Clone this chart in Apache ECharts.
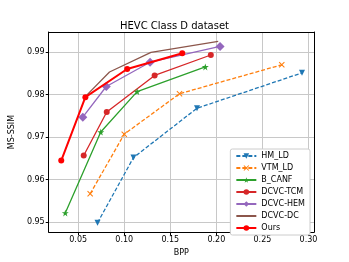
<!DOCTYPE html>
<html><head><meta charset="utf-8">
<script src="https://cdn.jsdelivr.net/npm/echarts@6/dist/echarts.min.js"></script>
<style>html,body{margin:0;padding:0;background:#fff}#c{width:349px;height:262px}</style>
</head><body><div id="c"></div>
<script>
var title = 'HEVC Class D dataset';
var seriesNames = ['HM_LD','VTM_LD','B_CANF','DCVC-TCM','DCVC-HEM','DCVC-DC','Ours'];
var bppHM = [0.071,0.110,0.179,0.293];   var ssimHM = [0.9499,0.9652,0.9768,0.9851];
var bppVTM = [0.063,0.100,0.160,0.271];  var ssimVTM = [0.9567,0.9707,0.9802,0.9870];
var bppCANF = [0.036,0.0745,0.114,0.188]; var ssimCANF = [0.9522,0.9712,0.9807,0.9865];
var bppTCM = [0.056,0.081,0.133,0.194];  var ssimTCM = [0.9657,0.9759,0.9845,0.9893];
var bppHEM = [0.055,0.0805,0.128,0.204]; var ssimHEM = [0.9747,0.9819,0.9876,0.9913];
var bppDC = [0.0585,0.084,0.129,0.202];  var ssimDC = [0.9797,0.9853,0.9899,0.9925];
var bppOurs = [0.0316,0.0578,0.1032,0.163]; var ssimOurs = [0.9645,0.9794,0.9860,0.9897];
var xTicks = [0.05,0.10,0.15,0.20,0.25,0.30];
var yTicks = [0.95,0.96,0.97,0.98,0.99];

function pts(x,y){return x.map(function(v,i){return [v,y[i]];});}
var STAR='path://M50,0 L61,35 L98,35 L68,57 L79,91 L50,70 L21,91 L32,57 L2,35 L39,35 Z';
var XM='path://M0,12 L12,0 L50,38 L88,0 L100,12 L62,50 L100,88 L88,100 L50,62 L12,100 L0,88 L38,50 Z';
var F='DejaVu Sans';
function mk(name,data,color,opts){
  var s={name:name,type:'line',data:data,color:color,animation:false,
    lineStyle:{color:color,width:opts.w||1.3,type:opts.dash?[4,2]:'solid'},
    itemStyle:{color:color},symbol:opts.sym||'none',symbolSize:opts.size||6,
    symbolRotate:opts.rot||0,showSymbol:!!opts.sym,z:opts.z||2};
  return s;
}
var legendData = seriesNames.map(function(n){ return n==='DCVC-DC' ? {name:n,itemStyle:{color:'rgba(0,0,0,0)',borderWidth:0}} : n; });
var chart=echarts.init(document.getElementById('c'),null,{renderer:'canvas'});
chart.setOption({
  animation:false,
  title:{text:title,left:'center',top:16,textStyle:{fontFamily:F,fontSize:10,fontWeight:'normal',color:'#000'}},
  grid:{left:43,right:35,top:32,bottom:29},
  xAxis:[{type:'value',min:0.018,max:0.306,name:'BPP',nameLocation:'middle',nameGap:15,
    nameTextStyle:{fontFamily:F,fontSize:8,color:'#000'},
    axisLine:{onZero:false,lineStyle:{color:'#000',width:1}},
    axisTick:{show:true,length:3,lineStyle:{color:'#000'},customValues:xTicks},
    axisLabel:{fontFamily:F,fontSize:8,color:'#000',margin:4,customValues:xTicks,formatter:function(v){return v.toFixed(2);}},
    splitLine:{show:true,lineStyle:{color:'#c8c8c8',width:1}}},
    {type:'value',position:'top',min:0.018,max:0.306,axisLine:{show:true,onZero:false,lineStyle:{color:'#000',width:1}},
     axisTick:{show:false},axisLabel:{show:false},splitLine:{show:false}}],
  yAxis:[{type:'value',min:0.9477,max:0.9947,name:'MS-SSIM',nameLocation:'middle',nameGap:30,nameRotate:90,
    nameTextStyle:{fontFamily:F,fontSize:8,color:'#000'},
    axisLine:{show:true,onZero:false,lineStyle:{color:'#000',width:1}},
    axisTick:{show:true,length:3,lineStyle:{color:'#000'},customValues:yTicks},
    axisLabel:{fontFamily:F,fontSize:8,color:'#000',margin:4,customValues:yTicks,formatter:function(v){return v.toFixed(2);}},
    splitLine:{show:true,lineStyle:{color:'#c8c8c8',width:1}}},
    {type:'value',position:'right',min:0.9477,max:0.9947,axisLine:{show:true,onZero:false,lineStyle:{color:'#000',width:1}},
     axisTick:{show:false},axisLabel:{show:false},splitLine:{show:false}}],
  legend:{orient:'vertical',right:39,top:149,itemWidth:20,itemHeight:7,itemGap:4,
    padding:[3,5,3,5],borderColor:'#cccccc',borderWidth:1,borderRadius:2,backgroundColor:'#fff',
    textStyle:{fontFamily:F,fontSize:8,color:'#000'},data:legendData},
  series:[
    mk('HM_LD',pts(bppHM,ssimHM),'#1f77b4',{dash:true,sym:'triangle',rot:180,size:6}),
    mk('VTM_LD',pts(bppVTM,ssimVTM),'#ff7f0e',{dash:true,sym:XM,size:6}),
    mk('B_CANF',pts(bppCANF,ssimCANF),'#2ca02c',{sym:STAR,size:7}),
    mk('DCVC-TCM',pts(bppTCM,ssimTCM),'#d62728',{sym:'circle',size:6}),
    mk('DCVC-HEM',pts(bppHEM,ssimHEM),'#9467bd',{sym:'diamond',size:9}),
    mk('DCVC-DC',pts(bppDC,ssimDC),'#8c564b',{}),
    mk('Ours',pts(bppOurs,ssimOurs),'#ff0000',{sym:'circle',size:6,w:2,z:5})
  ]
});
</script></body></html>
